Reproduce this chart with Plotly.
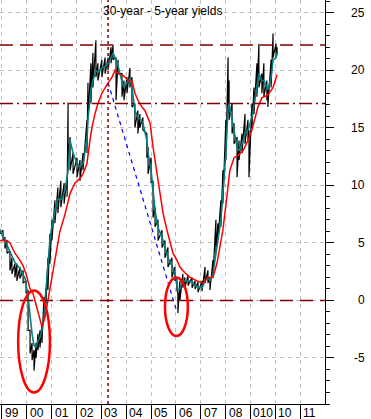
import plotly.graph_objects as go

# ---------------- data ----------------
black_x = [1998.92, 1999.04, 1999.12, 1999.20, 1999.32, 1999.40, 1999.52, 1999.60, 1999.72, 1999.85,
           1999.97, 2000.05, 2000.13, 2000.21, 2000.29, 2000.37, 2000.45, 2000.53, 2000.61, 2000.69,
           2000.77, 2000.85, 2000.93, 2001.01, 2001.13, 2001.25, 2001.37, 2001.50, 2001.62, 2001.66,
           2001.74, 2001.86, 2002.02, 2002.14, 2002.26, 2002.42, 2002.46, 2002.58, 2002.66, 2002.78,
           2002.86, 2003.02, 2003.15, 2003.27, 2003.39, 2003.47, 2003.59, 2003.67, 2003.83, 2003.91,
           2004.03, 2004.15, 2004.23, 2004.35, 2004.47, 2004.55, 2004.67, 2004.83, 2004.88, 2005.00,
           2005.08, 2005.16, 2005.28, 2005.44, 2005.56, 2005.68, 2005.84, 2005.96, 2006.04, 2006.08,
           2006.16, 2006.28, 2006.36, 2006.49, 2006.65, 2006.77, 2006.89, 2007.05, 2007.17, 2007.29,
           2007.37, 2007.49, 2007.61, 2007.69, 2007.81, 2007.89, 2008.01, 2008.10, 2008.14, 2008.26,
           2008.34, 2008.46, 2008.54, 2008.66, 2008.78, 2008.90, 2008.94, 2009.06, 2009.14, 2009.26,
           2009.34, 2009.46, 2009.54, 2009.66, 2009.70, 2009.83, 2009.91, 2010.03, 2010.07]
black_hi = [6.2, 6.1, 5.5, 5.2, 4.3, 3.7, 3.2, 3.2, 2.9, 2.6,
            1.7, 0.9, -2.6, -3.7, -4.3, -3.7, -2.9, -2.6, -2.0, 0.3,
            1.1, 3.7, 5.8, 7.0, 8.7, 9.8, 10.4, 10.2, 10.7, 17.2,
            14.2, 12.8, 12.4, 12.2, 12.8, 15.7, 18.9, 20.6, 21.5, 22.6,
            20.6, 20.9, 21.1, 21.1, 22.0, 22.2, 21.1, 20.9, 19.7, 19.1,
            19.4, 20.2, 19.4, 17.1, 16.5, 16.2, 15.9, 14.5, 13.3, 12.4,
            10.4, 8.1, 7.0, 6.1, 5.2, 4.6, 3.7, 2.9, 2.0, 0.6,
            1.7, 2.3, 2.0, 2.2, 2.0, 1.7, 1.6, 1.7, 2.9, 2.6,
            2.0, 3.5, 7.0, 6.7, 8.7, 11.3, 15.7, 21.1, 19.1, 17.1,
            15.4, 14.2, 13.9, 14.5, 16.2, 15.7, 14.8, 17.1, 18.5, 20.6,
            22.3, 19.7, 20.6, 19.1, 18.5, 20.9, 23.2, 22.3, 22.0]
black_lo = [5.8, 5.2, 4.5, 4.1, 2.6, 2.3, 2.0, 1.7, 1.9, 1.5,
            0.6, -2.6, -4.6, -5.2, -6.1, -5.0, -4.3, -4.1, -3.7, -1.7,
            -0.3, 0.9, 3.2, 5.2, 6.7, 7.6, 8.1, 8.4, 9.0, 12.2,
            11.3, 11.0, 10.7, 10.4, 11.3, 12.8, 15.7, 17.1, 18.5, 19.4,
            19.1, 19.4, 19.7, 20.0, 20.6, 20.9, 17.4, 19.7, 17.7, 17.4,
            18.0, 18.5, 16.8, 15.0, 14.5, 15.0, 14.8, 12.4, 11.0, 10.2,
            7.2, 6.4, 5.2, 4.6, 3.7, 2.9, 2.0, 1.7, 0.9, -1.1,
            0.0, 1.1, 1.1, 1.3, 1.1, 1.0, 0.7, 0.8, 1.5, 1.5,
            0.9, 2.0, 4.1, 5.2, 6.4, 8.4, 12.2, 16.2, 15.7, 14.5,
            13.6, 10.7, 12.2, 12.8, 13.6, 13.9, 10.7, 15.0, 16.2, 17.7,
            18.5, 18.0, 17.7, 17.4, 16.8, 18.5, 21.1, 21.1, 21.3]

teal_x = [1998.92, 1999.12, 1999.32, 1999.52, 1999.72, 1999.93, 2000.05, 2000.13, 2000.21, 2000.29,
          2000.37, 2000.45, 2000.53, 2000.61, 2000.69, 2000.77, 2000.85, 2000.93, 2001.01, 2001.13,
          2001.25, 2001.42, 2001.54, 2001.66, 2001.74, 2001.86, 2002.02, 2002.14, 2002.26, 2002.42,
          2002.46, 2002.58, 2002.66, 2002.78, 2002.86, 2003.02, 2003.15, 2003.27, 2003.39, 2003.47,
          2003.59, 2003.67, 2003.83, 2003.91, 2004.03, 2004.15, 2004.23, 2004.35, 2004.47, 2004.55,
          2004.67, 2004.83, 2004.88, 2005.00, 2005.08, 2005.16, 2005.28, 2005.44, 2005.56, 2005.68,
          2005.84, 2005.96, 2006.04, 2006.08, 2006.16, 2006.28, 2006.49, 2006.65, 2006.77, 2006.89,
          2007.05, 2007.17, 2007.29, 2007.37, 2007.49, 2007.61, 2007.69, 2007.81, 2007.89, 2008.01,
          2008.10, 2008.14, 2008.26, 2008.34, 2008.46, 2008.54, 2008.66, 2008.78, 2008.90, 2009.06,
          2009.14, 2009.26, 2009.34, 2009.46, 2009.54, 2009.66, 2009.70, 2009.83, 2009.91, 2010.03,
          2010.07]
teal_y = [6.1, 5.2, 4.2, 3.3, 2.8, 1.9, 0.3, -1.5, -2.9, -3.9,
          -4.1, -3.5, -3.2, -2.6, -1.5, 0.9, 3.2, 5.2, 6.4, 7.8,
          8.8, 8.8, 9.6, 11.3, 13.9, 12.8, 11.9, 11.6, 11.9, 13.9,
          15.7, 18.3, 19.1, 20.0, 19.8, 20.2, 20.3, 20.6, 21.1, 21.5,
          20.9, 20.4, 19.0, 18.5, 18.9, 19.3, 18.5, 16.5, 15.9, 15.8,
          15.4, 13.9, 12.8, 11.3, 9.6, 7.8, 6.3, 5.5, 4.6, 3.7,
          3.0, 2.3, 1.5, 0.9, 1.0, 1.7, 1.7, 1.6, 1.3, 1.1,
          1.1, 1.7, 2.0, 1.7, 2.3, 4.1, 5.2, 7.0, 9.3, 12.8,
          16.8, 17.1, 15.7, 14.8, 13.3, 13.0, 13.6, 14.5, 14.8, 15.9,
          17.1, 18.5, 19.7, 19.1, 19.1, 18.5, 18.3, 19.4, 20.9, 21.1,
          21.5]

red_x = [1998.92, 1999.20, 1999.32, 1999.52, 1999.72, 1999.85, 1999.97, 2000.05, 2000.13, 2000.25,
         2000.37, 2000.53, 2000.61, 2000.73, 2000.85, 2000.93, 2001.01, 2001.13, 2001.33, 2001.54,
         2001.66, 2001.74, 2001.94, 2002.14, 2002.26, 2002.42, 2002.54, 2002.62, 2002.74, 2002.86,
         2003.02, 2003.15, 2003.27, 2003.43, 2003.55, 2003.67, 2003.83, 2003.95, 2004.07, 2004.23,
         2004.35, 2004.47, 2004.63, 2004.75, 2004.96, 2005.08, 2005.24, 2005.36, 2005.48, 2005.64,
         2005.76, 2005.88, 2006.04, 2006.16, 2006.36, 2006.57, 2006.85, 2007.09, 2007.29, 2007.49,
         2007.65, 2007.77, 2007.89, 2008.05, 2008.17, 2008.34, 2008.50, 2008.70, 2008.90, 2009.06,
         2009.18, 2009.30, 2009.46, 2009.66, 2009.78, 2009.91, 2010.07]
red_y = [5.2, 5.2, 5.0, 4.1, 3.5, 3.0, 2.3, 1.5, 1.0, 0.6,
         -0.3, -1.7, -2.3, -1.5, 0.0, 1.1, 2.3, 3.7, 6.0, 7.5,
         8.5, 9.3, 10.2, 10.6, 11.0, 11.9, 13.9, 15.0, 16.2, 17.1,
         18.0, 18.5, 18.9, 19.4, 20.0, 19.7, 19.6, 19.4, 19.1, 19.1,
         18.0, 17.4, 16.8, 16.5, 15.4, 13.3, 11.0, 9.6, 7.6, 6.1,
         5.0, 4.1, 3.5, 2.9, 2.4, 2.0, 1.7, 1.5, 2.0, 2.0,
         3.2, 4.6, 6.1, 9.0, 11.3, 12.4, 12.6, 13.0, 13.9, 14.8,
         15.7, 16.8, 17.6, 17.8, 18.1, 18.5, 19.6]

trend_x = [2003.27, 2006.04]
trend_y = [18.9, -1.0]

years = list(range(1999, 2012))
year_labels = ["99", "00", "01", "02", "03", "04", "05", "06", "07", "08", "010", "10", "11"]
y_ticks = [25, 20, 15, 10, 5, 0, -5]

hlines_dash = [22.2, 0.0]
hlines_dashdot = [17.1]
vline_x = 2003.27

# ellipses: (x0, x1, y0, y1)
ellipses = [(1999.65, 2000.93, -8.0, 0.87), (2005.56, 2006.48, -3.1, 2.0)]

title = "30-year - 5-year yields"

# ---------------- figure ----------------
DARKRED = "#800000"
FONT = "Liberation Sans, Arial, sans-serif"

bx, by = [], []
for x, h, l in zip(black_x, black_hi, black_lo):
    bx += [x, x]
    by += [h, l]

fig = go.Figure()
fig.add_trace(go.Scatter(x=bx, y=by, mode="lines", line=dict(color="black", width=1.2),
                         hoverinfo="skip"))
fig.add_trace(go.Scatter(x=teal_x, y=teal_y, mode="lines", line=dict(color="#008080", width=1.6)))
fig.add_trace(go.Scatter(x=red_x, y=red_y, mode="lines", line=dict(color="#ff0000", width=1.5)))
fig.add_trace(go.Scatter(x=trend_x, y=trend_y, mode="lines",
                         line=dict(color="#0000ff", width=1.2, dash="4px,4px")))

shapes = []
for yv in hlines_dash:
    shapes.append(dict(type="line", xref="paper", x0=0, x1=1, yref="y", y0=yv, y1=yv,
                       line=dict(color=DARKRED, width=1.5, dash="13px,7px")))
for yv in hlines_dashdot:
    shapes.append(dict(type="line", xref="paper", x0=0, x1=1, yref="y", y0=yv, y1=yv,
                       line=dict(color=DARKRED, width=1.5, dash="13px,4px,2px,4px")))
shapes.append(dict(type="line", xref="x", x0=vline_x, x1=vline_x, yref="paper", y0=0, y1=1,
                   line=dict(color=DARKRED, width=1.5, dash="3px,3px")))
for (x0, x1, y0, y1) in ellipses:
    shapes.append(dict(type="circle", xref="x", yref="y", x0=x0, x1=x1, y0=y0, y1=y1,
                       line=dict(color="#ff0000", width=2.5)))

annotations = []
for yr, lab in zip(years, year_labels):
    annotations.append(dict(x=yr, y=0, xref="x", yref="paper", text=lab, showarrow=False,
                            xanchor="left", yanchor="top", xshift=1, yshift=0,
                            font=dict(family=FONT, size=12, color="black")))
for v in y_ticks:
    annotations.append(dict(x=1, y=v, xref="paper", yref="y", text=str(v), showarrow=False,
                            xanchor="right", yanchor="middle", xshift=42,
                            font=dict(family=FONT, size=12, color="black")))
annotations.append(dict(x=0.5, y=1, xref="paper", yref="paper", text=title, showarrow=False,
                        xanchor="center", yanchor="top", yshift=-2,
                        font=dict(family=FONT, size=12, color="black")))

fig.update_layout(
    width=371, height=419,
    margin=dict(l=0, r=46, t=0, b=15),
    paper_bgcolor="white", plot_bgcolor="white",
    showlegend=False,
    shapes=shapes, annotations=annotations,
    xaxis=dict(range=[1998.92, 2012.0], tickvals=years, showticklabels=False,
               ticks="outside", ticklen=15, tickcolor="black", tickwidth=1,
               showline=True, linecolor="black", linewidth=1,
               showgrid=True, gridcolor="#c0c0c0", griddash="4px,4px", gridwidth=1,
               zeroline=False, fixedrange=True),
    yaxis=dict(range=[-9.0, 26.1], side="right", tick0=0, dtick=5, showticklabels=False,
               ticks="outside", ticklen=8, tickcolor="black", tickwidth=1,
               minor=dict(dtick=1, ticks="outside", ticklen=4, tickcolor="black", showgrid=False),
               showline=True, linecolor="black", linewidth=1,
               showgrid=True, gridcolor="#c0c0c0", griddash="4px,4px", gridwidth=1,
               zeroline=False, fixedrange=True),
)

fig.write_html("out.html")
